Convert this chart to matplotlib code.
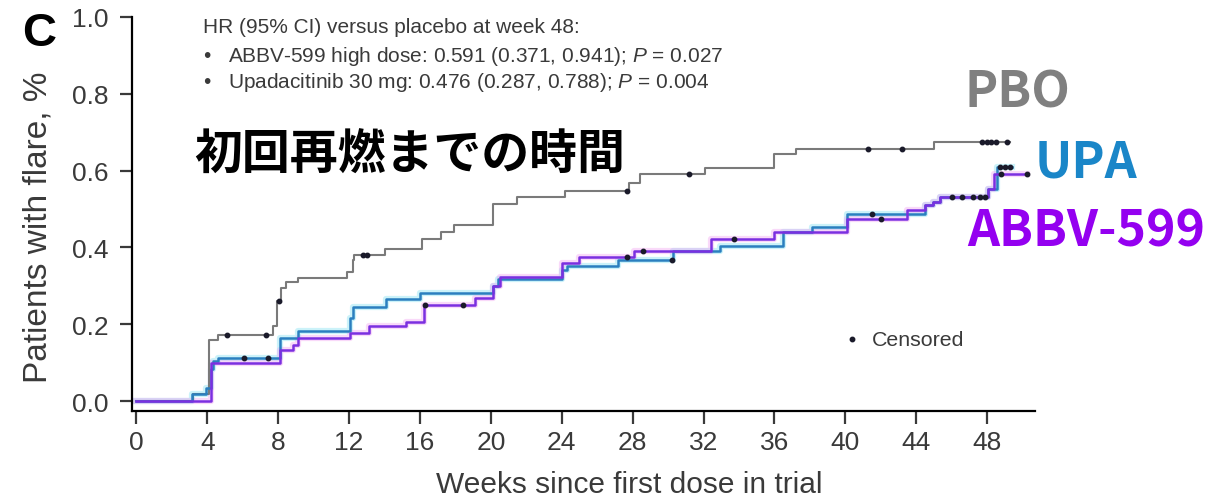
import matplotlib
matplotlib.use("Agg")
import matplotlib.pyplot as plt

# Kaplan-Meier style cumulative flare curves (step at each week -> new value)
pbo_weeks = [0, 3.2, 4.1, 4.6, 7.7, 7.95, 8.15, 8.45, 9.1, 11.9, 12.2, 12.3, 14.0, 16.1, 17.2, 17.9,
             20.1, 21.5, 24.2, 27.8, 28.4, 32.1, 36.0, 37.2, 45.0, 49.3]
pbo_flare = [0, 0.018, 0.16, 0.173, 0.195, 0.26, 0.295, 0.31, 0.32, 0.335, 0.366, 0.38, 0.397, 0.423,
             0.441, 0.457, 0.514, 0.531, 0.547, 0.568, 0.59, 0.606, 0.642, 0.656, 0.674, 0.674]

upa_weeks = [0, 3.15, 3.9, 4.2, 4.35, 4.6, 8.1, 9.1, 12.05, 12.2, 14.1, 16.0, 20.1, 20.4, 24.0, 24.3,
             27.2, 30.3, 32.9, 36.5, 38.1, 40.1, 44.5, 44.95, 45.35, 48.05, 48.55, 49.4]
upa_flare = [0, 0.018, 0.034, 0.083, 0.103, 0.113, 0.165, 0.181, 0.215, 0.245, 0.266, 0.281, 0.30, 0.317,
             0.34, 0.351, 0.366, 0.39, 0.403, 0.439, 0.452, 0.488, 0.51, 0.518, 0.531, 0.552, 0.609, 0.609]

abbv_weeks = [0, 4.2, 8.1, 8.85, 9.1, 12.05, 13.1, 15.2, 16.2, 19.1, 20.1, 20.5, 24.0, 25.0, 28.1, 32.4,
              36.0, 40.1, 43.5, 44.5, 44.95, 45.35, 48.05, 48.4, 50.25]
abbv_flare = [0, 0.10, 0.134, 0.147, 0.165, 0.178, 0.194, 0.206, 0.25, 0.268, 0.30, 0.323, 0.359, 0.374,
              0.39, 0.423, 0.439, 0.475, 0.497, 0.51, 0.518, 0.531, 0.552, 0.591, 0.591]

# censored observations
pbo_cens_w = [5.1, 7.3, 8.05, 12.8, 13.0, 27.7, 31.2, 41.3, 43.2, 47.7, 48.0, 48.2, 48.5, 49.1]
pbo_cens_y = [0.173, 0.173, 0.26, 0.38, 0.38, 0.547, 0.59, 0.656, 0.656, 0.674, 0.674, 0.674, 0.674, 0.674]
upa_cens_w = [6.1, 7.4, 30.2, 41.5, 46.0, 46.6, 47.2, 47.6, 47.9, 48.7, 49.0, 49.3]
upa_cens_y = [0.113, 0.113, 0.366, 0.488, 0.531, 0.531, 0.531, 0.531, 0.531, 0.609, 0.609, 0.609]
abbv_cens_w = [16.3, 18.4, 27.7, 28.6, 33.7, 42.0, 48.8, 50.25]
abbv_cens_y = [0.25, 0.25, 0.374, 0.39, 0.423, 0.475, 0.591, 0.591]

x_ticks = list(range(0, 49, 4))
y_ticks = [0.0, 0.2, 0.4, 0.6, 0.8, 1.0]

hr_lines = ["HR (95% CI) versus placebo at week 48:",
            "ABBV-599 high dose: 0.591 (0.371, 0.941); $\\it{P}$ = 0.027",
            "Upadacitinib 30 mg: 0.476 (0.287, 0.788); $\\it{P}$ = 0.004"]

plt.rcParams['font.family'] = ['Liberation Sans', 'DejaVu Sans']
plt.rcParams['mathtext.fontset'] = 'custom'
plt.rcParams['mathtext.it'] = 'Liberation Sans:italic'

fig = plt.figure(figsize=(12.32, 5.02), dpi=100)
ax = fig.add_axes([0.1071, 0.1793, 0.733, 0.785])

c_pbo = '#7a7a7a'
c_upa = '#2a7fbf'
c_abbv = '#7b2fe0'
c_txt = '#3a3a3a'

# soft halo under coloured lines like in the source image
ax.step(upa_weeks, upa_flare, where='post', color='#7fe0f0', lw=4.5, alpha=0.4, zorder=1)
ax.step(abbv_weeks, abbv_flare, where='post', color='#f0a0f0', lw=4.5, alpha=0.4, zorder=1)

ax.step(pbo_weeks, pbo_flare, where='post', color=c_pbo, lw=1.5, zorder=2)
ax.step(upa_weeks, upa_flare, where='post', color=c_upa, lw=1.8, zorder=3)
ax.step(abbv_weeks, abbv_flare, where='post', color=c_abbv, lw=1.8, zorder=3)

for w, y in [(pbo_cens_w, pbo_cens_y), (upa_cens_w, upa_cens_y), (abbv_cens_w, abbv_cens_y)]:
    ax.plot(w, y, ls='none', marker='o', ms=3.2, color='#1a1a2a', zorder=4)

ax.set_xlim(-0.25, 50.7)
ax.set_ylim(-0.026, 1.0)
ax.set_xticks(x_ticks)
ax.set_yticks(y_ticks)
ax.set_yticklabels(['%.1f' % v for v in y_ticks])
ax.spines['top'].set_visible(False)
ax.spines['right'].set_visible(False)
ax.spines['left'].set_linewidth(1.6)
ax.spines['bottom'].set_linewidth(1.6)
ax.tick_params(direction='out', length=9, width=1.6, labelsize=19, colors=c_txt)
ax.tick_params(axis='y', pad=8)
ax.tick_params(axis='x', pad=5)

fig.text(0.511, 0.034, 'Weeks since first dose in trial', fontsize=21.5, color=c_txt,
         ha='center', va='center')
fig.text(0.031, 0.548, 'Patients with flare, %', fontsize=24, color=c_txt,
         rotation=90, ha='center', va='center')

fig.text(0.018, 0.932, 'C', fontsize=34, fontweight='bold', color='black', va='center')

# hazard ratio box
hr_y = [0.945, 0.888, 0.835]
fig.text(0.165, hr_y[0], hr_lines[0], fontsize=15, color=c_txt, va='center')
for i in (1, 2):
    fig.text(0.165, hr_y[i], '•', fontsize=15, color=c_txt, va='center')
    fig.text(0.185, hr_y[i], hr_lines[i], fontsize=15, color=c_txt, va='center')

# legend for censored marks
ax.plot([40.4], [0.161], ls='none', marker='o', ms=3.2, color='#1a1a2a')
ax.text(41.5, 0.161, 'Censored', fontsize=15.4, color=c_txt, va='center')

# Japanese annotation and group labels
jp = ['Noto Sans CJK JP', 'DejaVu Sans']
fig.text(0.158, 0.69, '初回再燃までの時間', fontsize=34.5, fontweight='bold', color='black',
         family=jp, va='center')
fig.text(0.783, 0.815, 'PBO', fontsize=36, fontweight='bold', color='#808080', family=jp, va='center')
fig.text(0.840, 0.675, 'UPA', fontsize=36, fontweight='bold', color='#1a86c8', family=jp, va='center')
fig.text(0.785, 0.538, 'ABBV-599', fontsize=36, fontweight='bold', color='#9400f0', family=jp, va='center')

plt.savefig('out.png', dpi=100)
